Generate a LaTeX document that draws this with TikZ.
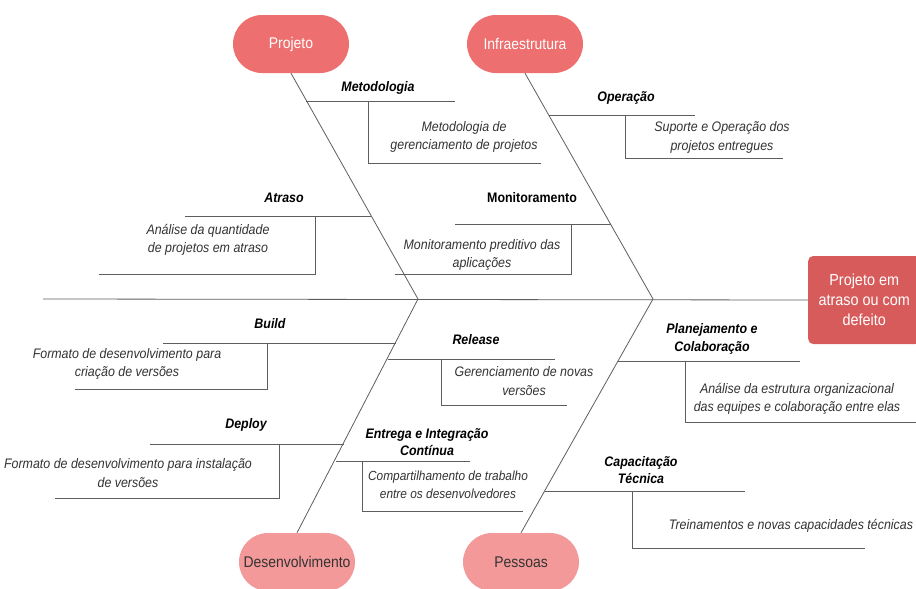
\documentclass[tikz,border=0pt]{standalone}
\usepackage{fontspec}
\setmainfont{Liberation Sans}[FakeStretch=0.9]
\usetikzlibrary{shapes.misc}
\definecolor{topred}{HTML}{EE6F6F}
\definecolor{headred}{HTML}{D85B5B}
\definecolor{botpink}{HTML}{F39999}
\definecolor{linegray}{HTML}{5E5E5E}
\definecolor{desctext}{HTML}{333333}
\begin{document}
\begin{tikzpicture}[x=1pt,y=-1pt,
  bone/.style={draw=linegray, line width=0.8pt},
  twig/.style={draw=linegray, line width=0.7pt},
  lbl/.style={font=\fontsize{13.8}{17.5}\selectfont\bfseries\itshape, text=black, align=center, inner sep=0pt},
  lblup/.style={font=\fontsize{13.8}{17.5}\selectfont\bfseries, text=black, align=center, inner sep=0pt},
  desc/.style={font=\fontsize{13.8}{18.5}\selectfont\itshape, text=desctext, align=center, inner sep=0pt},
  topcat/.style={rounded rectangle, fill=topred, draw=none, minimum width=116pt, minimum height=58pt, text=white, font=\fontsize{15.5}{18}\selectfont, inner sep=0pt},
  botcat/.style={rounded rectangle, fill=botpink, draw=none, minimum width=116pt, minimum height=58pt, text=desctext, font=\fontsize{15.5}{18}\selectfont, inner sep=0pt},
  headbox/.style={rectangle, rounded corners=5pt, fill=headred, draw=none, minimum width=112pt, minimum height=88pt, text=white, align=center, font=\fontsize{16}{20}\selectfont, inner sep=0pt}
]
\useasboundingbox (0,0) rectangle (916,589);
\clip (0,0) rectangle (916,589);
\fill[white] (0,0) rectangle (916,589);

% category nodes
\node[topcat] (proj) at (291,44) {Projeto};
\node[topcat] (infra) at (525,44) {Infraestrutura};
\node[botcat] (desen) at (297,562) {Desenvolvimento};
\node[botcat] (pess) at (521,562) {Pessoas};
\node[headbox, anchor=west] (head) at (808,300) {Projeto em\\atraso ou com\\defeito};

% spine
\coordinate (tail) at (43,299);
\coordinate (ja) at (418,299);
\coordinate (jb) at (653,299);
\draw[bone] (tail) -- (head.west);

% main bones
\draw[bone] (proj.south) -- (ja);
\draw[bone] (infra.south) -- (jb);
\draw[bone] (ja) -- (desen.north);
\draw[bone] (jb) -- (pess.north);

% Metodologia
\coordinate (m0) at (306,101); \coordinate (m1) at (455,101);
\coordinate (m2) at (368,101); \coordinate (m3) at (368,163); \coordinate (m4) at (541,163);
\draw[twig] (m0) -- (m1);
\draw[twig] (m2) -- (m3) -- (m4);
\node[lbl] (metl) at (378,88) {Metodologia};
\node[desc] (metd) at (464,137) {Metodologia de\\gerenciamento de projetos};

% Operacao
\coordinate (o0) at (549,115); \coordinate (o1) at (695,115);
\coordinate (o2) at (625,115); \coordinate (o3) at (625,158); \coordinate (o4) at (783,158);
\draw[twig] (o0) -- (o1);
\draw[twig] (o2) -- (o3) -- (o4);
\node[lbl] (opl) at (626,98) {Operação};
\node[desc] (opd) at (722,137.5) {Suporte e Operação dos\\projetos entregues};

% Atraso
\coordinate (a0) at (371,216); \coordinate (a1) at (185,216);
\coordinate (a2) at (315,216); \coordinate (a3) at (315,274); \coordinate (a4) at (99,274);
\draw[twig] (a0) -- (a1);
\draw[twig] (a2) -- (a3) -- (a4);
\node[lbl] (atl) at (284,198) {Atraso};
\node[desc] (atd) at (208,240) {Análise da quantidade\\de projetos em atraso};

% Monitoramento
\coordinate (n0) at (611,224); \coordinate (n1) at (455,224);
\coordinate (n2) at (571,224); \coordinate (n3) at (571,274); \coordinate (n4) at (395,274);
\draw[twig] (n0) -- (n1);
\draw[twig] (n2) -- (n3) -- (n4);
\node[lblup] (mol) at (532,198) {Monitoramento};
\node[desc] (mod) at (482,255) {Monitoramento preditivo das\\aplicações};

% Build
\coordinate (b0) at (396,343); \coordinate (b1) at (163,343);
\coordinate (b2) at (267,343); \coordinate (b3) at (267,389); \coordinate (b4) at (75,389);
\draw[twig] (b0) -- (b1);
\draw[twig] (b2) -- (b3) -- (b4);
\node[lbl] (bul) at (270,324) {Build};
\node[desc] (bud) at (127,364) {Formato de desenvolvimento para\\criação de versões};

% Release
\coordinate (r0) at (388,359); \coordinate (r1) at (555,359);
\coordinate (r2) at (441,359); \coordinate (r3) at (441,405); \coordinate (r4) at (567,405);
\draw[twig] (r0) -- (r1);
\draw[twig] (r2) -- (r3) -- (r4);
\node[lbl] (rel) at (476,340) {Release};
\node[desc] (red) at (524,381) {Gerenciamento de novas\\versões};

% Deploy
\coordinate (d0) at (344,444); \coordinate (d1) at (150,444);
\coordinate (d2) at (279,444); \coordinate (d3) at (279,498); \coordinate (d4) at (55,498);
\draw[twig] (d0) -- (d1);
\draw[twig] (d2) -- (d3) -- (d4);
\node[lbl] (del) at (246,425) {Deploy};
\node[desc] (ded) at (128,473) {Formato de desenvolvimento para instalação\\de versões};

% Entrega
\coordinate (e0) at (336,461); \coordinate (e1) at (470,461);
\coordinate (e2) at (362,461); \coordinate (e3) at (362,511); \coordinate (e4) at (523,511);
\draw[twig] (e0) -- (e1);
\draw[twig] (e2) -- (e3) -- (e4);
\node[lbl] (enl) at (427,442) {Entrega e Integração\\Contínua};
\node[desc, font=\fontsize{13.2}{18}\selectfont\itshape] (end) at (448,485) {Compartilhamento de trabalho\\entre os desenvolvedores};

% Planejamento
\coordinate (p0) at (618,361); \coordinate (p1) at (800,361);
\coordinate (p2) at (685,361); \coordinate (p3) at (685,422); \coordinate (p4) at (916,422);
\draw[twig] (p0) -- (p1);
\draw[twig] (p2) -- (p3) -- (p4);
\node[lbl] (pll) at (712,339) {Planejamento e\\Colaboração};
\node[desc] (pld) at (797,399) {Análise da estrutura organizacional\\das equipes e colaboração entre elas};

% Capacitacao
\coordinate (c0) at (545,491); \coordinate (c1) at (745,491);
\coordinate (c2) at (632,491); \coordinate (c3) at (632,548); \coordinate (c4) at (865,548);
\draw[twig] (c0) -- (c1);
\draw[twig] (c2) -- (c3) -- (c4);
\node[lbl] (cal) at (641,470) {Capacitação\\Técnica};
\node[desc] (cad) at (791,526) {Treinamentos e novas capacidades técnicas};
\end{tikzpicture}
\end{document}
